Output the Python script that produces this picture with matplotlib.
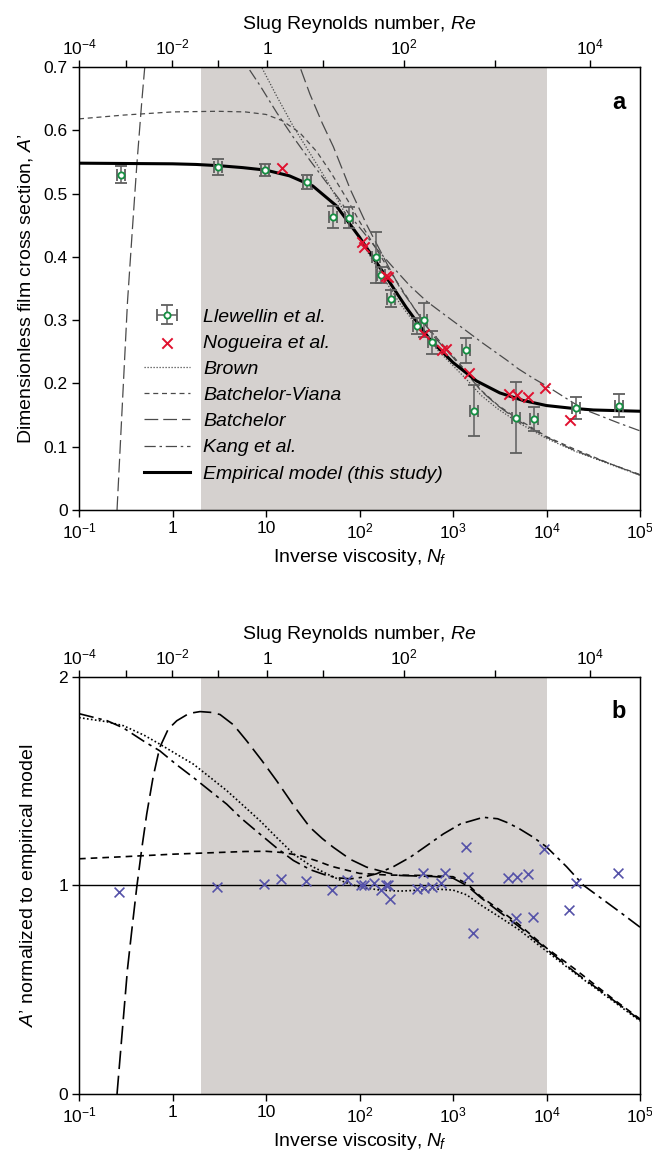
import numpy as np
import matplotlib
matplotlib.use('Agg')
import matplotlib.pyplot as plt
from matplotlib.lines import Line2D
from matplotlib.ticker import NullLocator

plt.rcParams['font.family'] = ['Liberation Sans', 'DejaVu Sans']
plt.rcParams['mathtext.fontset'] = 'custom'
plt.rcParams['mathtext.rm'] = 'Liberation Sans'
plt.rcParams['mathtext.it'] = 'Liberation Sans:italic'
plt.rcParams['mathtext.bf'] = 'Liberation Sans:bold'

# ---- data ----
# Llewellin et al. (green circles with error bars)
nf_ll = [0.28, 3.04, 9.75, 27.2, 52.5, 77.3, 150, 171, 217, 415, 485, 595,
         1366, 1663, 4720, 7350, 20700, 59200]
a_ll = [0.530, 0.542, 0.537, 0.518, 0.463, 0.462, 0.399, 0.371, 0.334, 0.291,
        0.300, 0.265, 0.252, 0.157, 0.146, 0.143, 0.161, 0.165]
err_ll = [0.013, 0.012, 0.010, 0.011, 0.018, 0.016, 0.041, 0.013, 0.013, 0.013,
          0.027, 0.018, 0.020, 0.040, 0.056, 0.019, 0.017, 0.018]

# Nogueira et al. (red crosses)
nf_ng = [14.7, 107, 113, 192, 200, 493, 757, 834, 1480, 3940, 4830, 6390, 9640, 17800]
a_ng = [0.540, 0.423, 0.416, 0.370, 0.368, 0.278, 0.252, 0.255, 0.217, 0.184,
        0.181, 0.178, 0.192, 0.142]

# empirical model (this study), read every quarter decade
nf_emp = [0.1, 1, 1.78, 3.16, 5.62, 10, 17.8, 31.6, 56.2, 100, 178, 316, 562,
          1000, 1778, 3162, 5623, 1e4, 17800, 31600, 56200, 1e5]
a_emp = [0.548, 0.547, 0.546, 0.544, 0.541, 0.537, 0.528, 0.512, 0.481, 0.431,
         0.376, 0.320, 0.270, 0.233, 0.204, 0.185, 0.173, 0.165, 0.161, 0.158,
         0.157, 0.156]

# other models, panel a
nf_brown_a = [3.8, 5.5, 8.6, 13, 19.6, 30, 44.6, 70, 101, 166, 271, 450, 700, 1000,
              1400, 2000, 3000, 5000, 1e4, 2e4, 5e4, 1e5]
a_brown = [0.792, 0.752, 0.705, 0.654, 0.606, 0.562, 0.521, 0.469, 0.428, 0.375,
           0.326, 0.283, 0.251, 0.228, 0.206, 0.181, 0.160, 0.138, 0.113, 0.093,
           0.071, 0.055]

nf_bv_a = [0.1, 0.3, 1, 3, 6, 10, 15, 23, 35, 50, 75, 100, 200, 500, 1000, 1400,
           2000, 3000, 5000, 1e4, 2e4, 5e4, 1e5]
a_bv = [0.618, 0.624, 0.629, 0.630, 0.629, 0.625, 0.615, 0.596, 0.566, 0.532,
        0.489, 0.456, 0.383, 0.293, 0.243, 0.218, 0.189, 0.166, 0.143, 0.116,
        0.096, 0.072, 0.056]

nf_bat_a = [0.255, 0.29, 0.33, 0.37, 0.414, 0.47, 0.53, 0.62, 0.9, 1.5, 2.6, 4.5,
            9, 13, 20, 29.5, 40, 52.5, 80, 119, 200, 271, 616, 1000, 1400, 2000,
            3000, 5000, 1e4, 2e4, 5e4, 1e5]
a_bat = [0.0, 0.164, 0.329, 0.438, 0.543, 0.647, 0.736, 0.833, 0.957, 0.996,
         0.997, 0.959, 0.861, 0.799, 0.725, 0.657, 0.611, 0.574, 0.506, 0.451,
         0.387, 0.351, 0.275, 0.241, 0.216, 0.188, 0.165, 0.141, 0.115, 0.094,
         0.072, 0.055]

nf_kang_a = [1.67, 2.5, 3.8, 5.5, 8.6, 13, 19.6, 30, 44.6, 60, 80, 110, 152, 230,
             347, 520, 787, 1200, 2110, 3000, 3740, 5000, 7230, 1e4, 16400, 25000,
             37300, 6e4, 1e5]
a_kang = [0.829, 0.793, 0.756, 0.714, 0.671, 0.628, 0.589, 0.551, 0.517, 0.492,
          0.464, 0.439, 0.413, 0.383, 0.354, 0.330, 0.310, 0.290, 0.263, 0.247,
          0.237, 0.223, 0.208, 0.196, 0.176, 0.159, 0.149, 0.137, 0.125]

# panel b: measurements normalized to empirical model
nf_b = [0.27, 2.96, 9.4, 14.4, 26.5, 51, 74, 105, 112, 144, 170, 192, 200, 214,
        408, 482, 490, 590, 737, 820, 1367, 1460, 1640, 3900, 4720, 4830, 6390,
        7220, 9480, 17500, 20700, 58600]
r_b = [0.968, 0.995, 1.008, 1.029, 1.021, 0.976, 1.024, 1.0, 1.0, 1.013, 0.979,
       1.003, 1.003, 0.936, 0.984, 1.061, 0.989, 0.992, 1.013, 1.061, 1.183, 1.040,
       0.772, 1.037, 0.843, 1.040, 1.056, 0.851, 1.176, 0.884, 1.011, 1.059]

nf_brown_b = [0.1, 0.2, 0.3, 0.5, 0.73, 1.1, 1.67, 2.5, 3.8, 5.5, 8.6, 13, 19.6,
              30, 44.6, 70, 101, 166, 271, 450, 700, 1000, 1400, 2000, 3000, 5000,
              1e4, 2e4, 5e4, 1e5]
r_brown = [1.805, 1.785, 1.766, 1.72, 1.678, 1.63, 1.582, 1.52, 1.455, 1.39,
           1.311, 1.23, 1.152, 1.095, 1.056, 1.015, 0.992, 0.978, 0.973, 0.978,
           0.982, 0.978, 0.955, 0.905, 0.855, 0.79, 0.685, 0.58, 0.45, 0.35]

nf_kang_b = [0.1, 0.2, 0.3, 0.5, 0.73, 1.1, 1.67, 2.5, 3.8, 5.5, 8.6, 13, 19.6, 30,
             44.6, 60, 80, 110, 152, 230, 347, 520, 787, 1200, 2110, 3000, 3740,
             5000, 7230, 1e4, 16400, 25000, 37300, 6e4, 1e5]
r_kang = [1.824, 1.79, 1.755, 1.69, 1.646, 1.58, 1.518, 1.455, 1.39, 1.32, 1.247,
          1.18, 1.12, 1.075, 1.048, 1.036, 1.032, 1.04, 1.056, 1.09, 1.135, 1.19,
          1.247, 1.295, 1.327, 1.32, 1.303, 1.275, 1.231, 1.185, 1.09, 1.0, 0.943,
          0.875, 0.80]

nf_bv_b = [0.1, 0.3, 1, 3, 6, 10, 15, 23, 35, 50, 75, 100, 200, 500, 1000, 1400,
           2000, 3000, 5000, 1e4, 2e4, 5e4, 1e5]
r_bv = [1.128, 1.138, 1.150, 1.158, 1.163, 1.164, 1.158, 1.144, 1.118, 1.092,
        1.072, 1.058, 1.050, 1.048, 1.042, 1.01, 0.945, 0.89, 0.815, 0.70, 0.60,
        0.46, 0.36]

nf_bat_b = [0.255, 0.29, 0.33, 0.37, 0.414, 0.47, 0.53, 0.62, 0.73, 0.9, 1.11, 1.5,
            1.97, 2.6, 3.22, 4.5, 6.2, 9, 13, 20, 29.5, 40, 52.5, 80, 119, 200, 271,
            616, 1000, 1400, 2000, 3000, 5000, 1e4, 2e4, 5e4, 1e5]
r_bat = [0.0, 0.30, 0.60, 0.80, 0.99, 1.18, 1.343, 1.52, 1.662, 1.75, 1.79, 1.825,
         1.834, 1.83, 1.82, 1.77, 1.694, 1.60, 1.502, 1.38, 1.279, 1.225, 1.183,
         1.125, 1.088, 1.06, 1.048, 1.043, 1.035, 1.0, 0.94, 0.88, 0.805, 0.695,
         0.585, 0.455, 0.355]

# axes ticks
nf_ticks = [0.1, 1, 10, 100, 1e3, 1e4, 1e5]
nf_tick_labels = [r'$10^{-1}$', '1', '10', r'$10^{2}$', r'$10^{3}$', r'$10^{4}$', r'$10^{5}$']
# Nf positions of the Re decades (top axis)
re_tick_nf = [0.1, 0.318, 0.99, 3.07, 10.3, 40.7, 299, 2810, 29200]
re_tick_labels = [r'$10^{-4}$', '', r'$10^{-2}$', '', '1', '', r'$10^{2}$', '', r'$10^{4}$']
shade = (2, 1e4)

SHADE = '#d5d1cf'
GREEN = '#158f42'
RED = '#e0102e'
BLUE = '#5552a8'
GREY = '#4a4a4a'

STYLE_BROWN = (1, 1.4)
STYLE_BV = (4, 3)
STYLE_BAT = (11, 4)
STYLE_KANG = (9, 3, 2, 3)


def setup_axes(ax, label, ylim, yticks, yticklabels):
    ax.set_xscale('log')
    ax.set_xlim(0.1, 1e5)
    ax.set_ylim(*ylim)
    ax.axvspan(*shade, color=SHADE, lw=0, zorder=0)
    ax.set_xticks(nf_ticks)
    ax.set_xticklabels(nf_tick_labels)
    ax.xaxis.set_minor_locator(NullLocator())
    ax.set_yticks(yticks)
    ax.set_yticklabels(yticklabels)
    ax.tick_params(direction='out', length=5, width=1, labelsize=12.5, pad=3)
    ax.tick_params(axis='y', right=False)
    for s in ax.spines.values():
        s.set_linewidth(1.0)
    ax.set_xlabel(r'Inverse viscosity, $\mathit{N}_{\!\mathit{f}}$', fontsize=14, labelpad=4)
    top = ax.twiny()
    top.set_xscale('log')
    top.set_xlim(0.1, 1e5)
    top.set_xticks(re_tick_nf)
    top.set_xticklabels(re_tick_labels)
    top.xaxis.set_minor_locator(NullLocator())
    top.tick_params(direction='out', length=5, width=1, labelsize=12.5, pad=2)
    top.set_xlabel(r'Slug Reynolds number, $\mathit{Re}$', fontsize=14, labelpad=6)
    ax.text(0.975, 0.945, label, transform=ax.transAxes, ha='right', va='top',
            fontsize=17, fontweight='bold')
    return top


fig = plt.figure(figsize=(6.52, 11.59), dpi=100)
ax_a = fig.add_axes([0.1212, 0.5600, 0.8604, 0.3822])
ax_b = fig.add_axes([0.1212, 0.0561, 0.8604, 0.3598])

# ---- panel a ----
setup_axes(ax_a, 'a', (0, 0.7), np.arange(0, 0.71, 0.1),
           ['0', '0.1', '0.2', '0.3', '0.4', '0.5', '0.6', '0.7'])
ax_a.set_ylabel(r'Dimensionless film cross section, $\mathit{A}$’', fontsize=14, labelpad=6)

ax_a.plot(nf_brown_a, a_brown, color=GREY, lw=0.9, dashes=STYLE_BROWN)
ax_a.plot(nf_bv_a, a_bv, color=GREY, lw=0.9, dashes=STYLE_BV)
ax_a.plot(nf_bat_a, a_bat, color=GREY, lw=0.9, dashes=STYLE_BAT)
ax_a.plot(nf_kang_a, a_kang, color=GREY, lw=0.9, dashes=STYLE_KANG)
ax_a.plot(nf_emp, a_emp, color='black', lw=2.2)

nf_ll_arr = np.array(nf_ll)
xerr_ll = [nf_ll_arr * (1 - 1 / 1.1), nf_ll_arr * 0.1]
eb = ax_a.errorbar(nf_ll, a_ll, yerr=err_ll, xerr=xerr_ll, fmt='o', ms=4.5,
                   mfc='white', mec=GREEN, mew=1.3, ecolor='#5f5f5f', elinewidth=1.1,
                   capsize=4, capthick=1.1, zorder=4)
sc = ax_a.scatter(nf_ng, a_ng, marker='x', s=55, color=RED, lw=1.4, zorder=5)

handles = [eb, sc,
           Line2D([], [], color=GREY, lw=0.9, dashes=STYLE_BROWN),
           Line2D([], [], color=GREY, lw=0.9, dashes=STYLE_BV),
           Line2D([], [], color=GREY, lw=0.9, dashes=STYLE_BAT),
           Line2D([], [], color=GREY, lw=0.9, dashes=STYLE_KANG),
           Line2D([], [], color='black', lw=2.2)]
labels = ['Llewellin et al.', 'Nogueira et al.', 'Brown', 'Batchelor-Viana',
          'Batchelor', 'Kang et al.', 'Empirical model (this study)']
ax_a.legend(handles, labels, loc='upper left', bbox_to_anchor=(0.098, 0.478),
            frameon=False, borderpad=0, handlelength=2.4, handletextpad=0.65,
            labelspacing=0.44, prop={'style': 'italic', 'size': 14})

# ---- panel b ----
setup_axes(ax_b, 'b', (0, 2), [0, 1, 2], ['0', '1', '2'])
ax_b.set_ylabel(r'$\mathit{A}$’ normalized to empirical model', fontsize=14, labelpad=14)
ax_b.axhline(1, color='black', lw=1.0, zorder=2)
ax_b.plot(nf_brown_b, r_brown, color='black', lw=1.2, dashes=STYLE_BROWN)
ax_b.plot(nf_bv_b, r_bv, color='black', lw=1.2, dashes=STYLE_BV)
ax_b.plot(nf_bat_b, r_bat, color='black', lw=1.2, dashes=STYLE_BAT)
ax_b.plot(nf_kang_b, r_kang, color='black', lw=1.2, dashes=STYLE_KANG)
ax_b.scatter(nf_b, r_b, marker='x', s=50, color=BLUE, lw=1.2, zorder=5)

fig.savefig('out.png', dpi=100)
